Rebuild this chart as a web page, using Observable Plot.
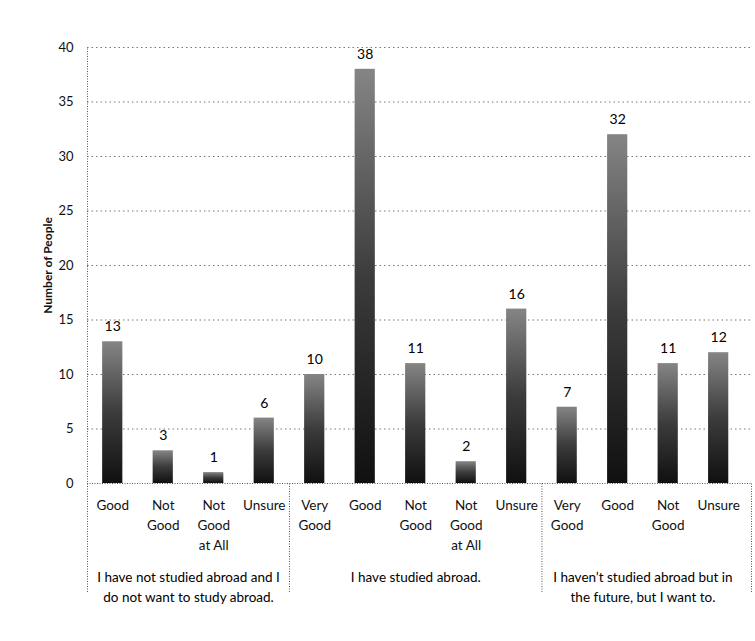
<!DOCTYPE html>
<html><head><meta charset="utf-8">
<script src="https://cdn.jsdelivr.net/npm/d3@7"></script>
<script src="https://cdn.jsdelivr.net/npm/@observablehq/plot@0.6"></script>
<style>body{margin:0;background:#fff}</style>
</head><body><div id="chart"></div>
<script>
const categories = ["Good","Not\nGood","Not\nGood\nat All","Unsure","Very\nGood","Good","Not\nGood","Not\nGood\nat All","Unsure","Very\nGood","Good","Not\nGood","Unsure"];
const values = [13,3,1,6,10,38,11,2,16,7,32,11,12];
const groupOf = [0,0,0,0,1,1,1,1,1,2,2,2,2];
const groups = ["I have not studied abroad and I\ndo not want to study abroad.","I have studied abroad.","I haven\u2019t studied abroad but in\nthe future, but I want to."];
const yTicks = [0,5,10,15,20,25,30,35,40];
const yLabel = "Number of People";

const data = values.map((v,i)=>({i, label:categories[i], value:v, group:groupOf[i]}));
const groupData = groups.map((g,k)=>({label:g, x:d3.mean(data.filter(d=>d.group===k), d=>d.i)}));
const boundaries = groups.slice(1).map((g,k)=>(d3.max(data.filter(d=>d.group===k), d=>d.i) + 0.5));
const xMin = -0.5, xMax = values.length - 0.35;

const chart = Plot.plot({
  width: 755,
  height: 641,
  marginTop: 47,
  marginBottom: 158,
  marginLeft: 87,
  marginRight: 4,
  style: {fontFamily: "Lato, 'Open Sans', sans-serif", fontSize: "13px", color: "#111", background: "#fff"},
  x: {type: "linear", domain: [xMin, xMax]},
  y: {domain: [0, 40]},
  marks: [
    () => {
      const ns = "http://www.w3.org/2000/svg";
      const defs = document.createElementNS(ns, "defs");
      defs.innerHTML = `<linearGradient id="barGrad" x1="0" y1="1" x2="0" y2="0">
        <stop offset="0" stop-color="#101010"/>
        <stop offset="0.5" stop-color="#3c3c3c"/>
        <stop offset="1" stop-color="#858585"/>
      </linearGradient>`;
      return defs;
    },
    Plot.ruleY(yTicks.filter(t=>t>0), {stroke:"#777", strokeDasharray:"1.5,3", strokeWidth:1}),
    Plot.ruleX([xMin], {y1:-10, y2:40, stroke:"#555", strokeDasharray:"1,1.5"}),
    Plot.ruleX([...boundaries, xMax], {y1:-10, y2:0, stroke:"#555", strokeDasharray:"1,1.5"}),
    Plot.ruleY([0], {stroke:"#555", strokeDasharray:"1,1.5"}),
    Plot.rectY(data, {x1: d=>d.i-0.2, x2: d=>d.i+0.2, y: "value", fill: "url(#barGrad)"}),
    Plot.text(data, {x:"i", y:"value", text: d=>String(d.value), dy:-15, fontSize:14, fill:"#000"}),
    Plot.axisY({ticks: yTicks, tickSize: 0, tickPadding: 14, label: null, fontSize: 13}),
    Plot.axisY({ticks: [], tickSize: 0, label: yLabel, labelAnchor: "center", labelArrow: "none", labelOffset: 44, fontWeight: "bold", fontSize: 12, dy: -22}),
    Plot.axisX({ticks: data.map(d=>d.i), tickFormat: i=>categories[i], tickSize:0, tickPadding:13, lineHeight:1.45, label:null, fontSize:13.5}),
    Plot.text(groupData, {x:"x", text:"label", frameAnchor:"bottom", lineAnchor:"top", dy:85, lineHeight:1.45, fontSize:13.5, fill:"#000"})
  ]
});
document.getElementById("chart").appendChild(chart);
</script>
</body></html>
